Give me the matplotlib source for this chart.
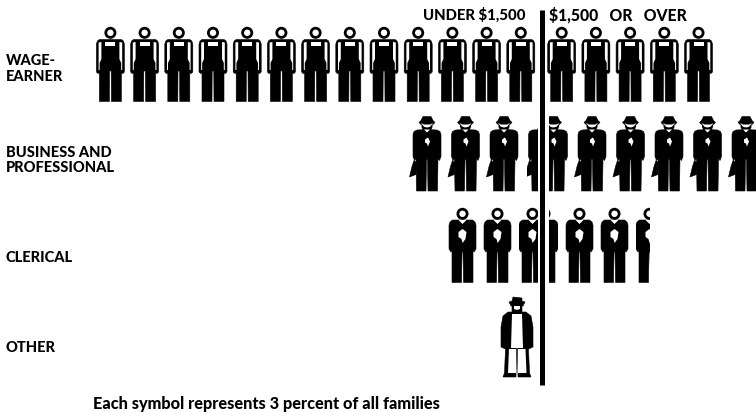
import matplotlib
matplotlib.use("Agg")
import matplotlib.pyplot as plt
from matplotlib.patches import Circle, Polygon, Rectangle
from matplotlib.transforms import Affine2D

plt.rcParams["font.family"] = ["Lato", "Liberation Sans", "DejaVu Sans"]

categories = ["WAGE-\nEARNER", "BUSINESS AND\nPROFESSIONAL", "CLERICAL", "OTHER"]
symbols = ["overalls", "suit", "clerk", "other"]
# symbols per row, left to right, each symbol is 3 percent of families
under_parts = [[1] * 13, [1, 1, 1, 0.35], [1, 1, 0.7], [1]]
over_parts = [[1] * 5, [0.65, 1, 1, 1, 1, 1], [0.33, 1, 1, 0.52], []]
header_under = "UNDER $1,500"
header_over = "$1,500   OR   OVER"
footnote = "Each symbol represents 3 percent of all families"

AXIS_X = 541.5
row_top = [27, 116.5, 208, 297]
row_pitch = [34.2, 38.5, 35, 34]
under_last = [520.8, 542.5, 532.5, 517]
over_first = [561.7, 553.5, 544.5, 0]
half_width = [14, 15.5, 13.5, 16]
label_y = [69, 160.5, 257.5, 348]
under_clip_top = [0, 128, 0, 0]  # the split suit has no hat left of the line


def mirror(pts):
    return pts + [(-x, y) for x, y in reversed(pts)]


def overalls():
    black = [mirror([(0, 12.5), (11, 12.5), (13, 14), (14, 17), (14, 45), (12.5, 46.5),
                     (11, 46), (11, 74.5), (1, 74.5), (0.8, 44)])]
    white = [[(-5, 14.5), (5, 14.5), (5, 18.5), (-5, 18.5)]]
    for s in (1, -1):
        white.append([(s * 9, 15), (s * 11.8, 15.5), (s * 11.8, 43), (s * 10.8, 43),
                      (s * 10.8, 36), (s * 9, 32)])
    return black, white, [(0, 5.8, 6, "k"), (0, 5.8, 3.2, "w")]


def suit():
    black = [mirror([(0, 13), (10, 13.5), (13, 15), (14, 18), (14, 40), (12.5, 44),
                     (11, 42), (10.5, 74.5), (1, 74.5), (0.5, 43)]),
             [(-13, 44), (-10.5, 46), (-11, 58), (-17.5, 60.5), (-15, 50)],
             [(-4, 0), (4, 0), (6, 4), (8, 6), (6, 8), (-6, 8), (-8, 6), (-6, 4)]]
    white = [[(-6, 6.5), (-3, 8), (3, 8), (6, 6.5), (3, 10.3), (0, 11), (-3, 10.3)],
             [(-3, 13), (3, 13), (0, 16)],
             [(-2, 23), (1, 21), (3, 25), (1, 30), (0, 27), (-2, 26)]]
    return black, white, [(0, 9.5, 5.5, "k")]


def clerk():
    black = [mirror([(0, 12), (10, 12), (12.5, 14), (13.5, 17), (13.5, 41), (11.5, 44),
                     (10.5, 42), (10.5, 74.5), (1, 74.5), (0.5, 44)])]
    white = [[(-4, 12), (4, 12), (0, 16)],
             [(-4, 24), (0, 21), (4, 24), (3, 31), (0, 35), (-1, 31), (-4, 29)]]
    return black, white, [(0, 5.8, 6, "k"), (0, 5.8, 3.2, "w")]


def other():
    black = [mirror([(0, 15), (9, 15), (14, 19), (16, 30), (16, 50), (11.5, 52), (12.5, 76),
                     (14, 80), (1, 80), (0.5, 50)]),
             [(-4, 0), (5, 1), (5, 4), (8, 5), (6, 9), (-6, 9), (-8, 5), (-5, 4)],
             mirror([(0, 9), (5, 9), (5, 16), (3, 18)])]
    white = [[(-5, 17), (5, 17), (6, 51), (-6, 51)],
             [(-8.5, 52), (-1, 52), (-1, 76), (-9.5, 76)],
             [(1, 52), (8.5, 52), (9.5, 76), (1, 76)],
             [(-3, 9), (3, 9), (3, 12), (0, 13), (-3, 12)]]
    return black, white, []


shapes = {"overalls": overalls, "suit": suit, "clerk": clerk, "other": other}


def draw_symbol(ax, name, cx, top, clip=None, clip_top=0):
    black, white, heads = shapes[name]()
    tr = Affine2D().translate(cx, top) + ax.transData
    patches = []
    for x, y, r, c in heads:
        patches.append((Circle((x, y), r, fc=c, ec="none"), 3 if c == "k" else 5))
    for pts in black:
        patches.append((Polygon(pts, closed=True, fc="k", ec="k", lw=0.4, joinstyle="round"), 3))
    for pts in white:
        patches.append((Polygon(pts, closed=True, fc="w", ec="none"), 4))
    for p, z in patches:
        p.set_transform(tr)
        p.set_zorder(z)
        ax.add_patch(p)
        if clip is not None:
            p.set_clip_path(Rectangle((clip[0], clip_top), clip[1] - clip[0], 412 - clip_top,
                                      transform=ax.transData))


def main():
    fig = plt.figure(figsize=(7.56, 4.12), dpi=100)
    ax = fig.add_axes([0, 0, 1, 1])
    ax.set_xlim(0, 756)
    ax.set_ylim(412, 0)
    ax.axis("off")

    for r, name in enumerate(symbols):
        hw = half_width[r]
        n = len(under_parts[r])
        for i, part in enumerate(under_parts[r]):
            cx = under_last[r] - (n - 1 - i) * row_pitch[r]
            clip = None if part == 1 else (cx - hw, cx - hw + part * 2 * hw)
            draw_symbol(ax, name, cx, row_top[r], clip, under_clip_top[r])
        for i, part in enumerate(over_parts[r]):
            cx = over_first[r] + i * row_pitch[r]
            if part == 1:
                clip = None
            elif i == 0:
                clip = (cx + hw - part * 2 * hw, cx + hw)
            else:
                clip = (cx - hw, cx - hw + part * 2 * hw)
            draw_symbol(ax, name, cx, row_top[r], clip)

    ax.plot([AXIS_X, AXIS_X], [10, 385], color="k", lw=3.6, solid_capstyle="butt", zorder=6)

    bold = dict(color="k", fontweight="black", va="center")
    for lab, y in zip(categories, label_y):
        ax.text(6, y, lab, fontsize=10.5, linespacing=1.12, ha="left", **bold)
    ax.text(423, 15, header_under, fontsize=10.7, ha="left", **bold)
    ax.text(549, 15, header_over, fontsize=11.3, ha="left", **bold)
    ax.text(93, 404, footnote, fontsize=11.7, ha="left", **bold)

    fig.savefig("out.png", dpi=100)


if __name__ == "__main__":
    main()
